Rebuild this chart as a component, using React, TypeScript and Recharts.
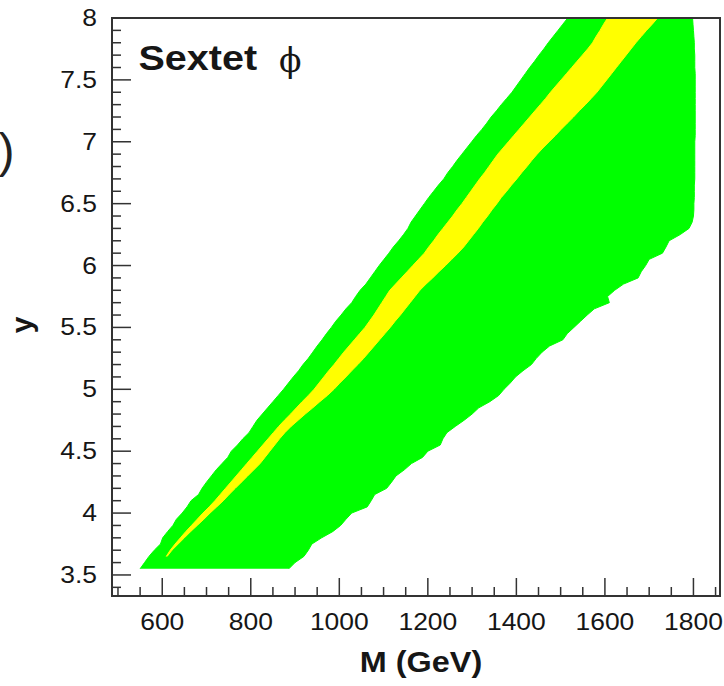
import React from 'react';
import { ComposedChart, Area, XAxis, YAxis, ReferenceArea } from 'recharts';

// coupling y (vertical axis), sampled every 0.05
const Y_VALUES = [
  3.55, 3.6, 3.65, 3.7, 3.75, 3.8, 3.85, 3.9, 3.95, 4.0,
  4.05, 4.1, 4.15, 4.2, 4.25, 4.3, 4.35, 4.4, 4.45, 4.5,
  4.55, 4.6, 4.65, 4.7, 4.75, 4.8, 4.85, 4.9, 4.95, 5.0,
  5.05, 5.1, 5.15, 5.2, 5.25, 5.3, 5.35, 5.4, 5.45, 5.5,
  5.55, 5.6, 5.65, 5.7, 5.75, 5.8, 5.85, 5.9, 5.95, 6.0,
  6.05, 6.1, 6.15, 6.2, 6.25, 6.3, 6.35, 6.4, 6.45, 6.5,
  6.55, 6.6, 6.65, 6.7, 6.75, 6.8, 6.85, 6.9, 6.95, 7.0,
  7.05, 7.1, 7.15, 7.2, 7.25, 7.3, 7.35, 7.4, 7.45, 7.5,
  7.55, 7.6, 7.65, 7.7, 7.75, 7.8, 7.85, 7.9, 7.95, 8.0,
];

// green band: left / right edge in M (GeV)
const GREEN_LEFT = [
  550, 560, 570, 582, 596, 601, 612, 624, 632, 645,
  656, 665, 682, 690, 700, 711, 722, 735, 748, 756,
  770, 782, 796, 805, 814, 826, 838, 850, 862, 874,
  885, 896, 908, 918, 930, 940, 950, 961, 971, 982,
  992, 1004, 1015, 1028, 1037, 1047, 1060, 1070, 1080, 1090,
  1101, 1112, 1122, 1134, 1145, 1155, 1162, 1172, 1182, 1192,
  1202, 1213, 1224, 1236, 1245, 1256, 1266, 1277, 1288, 1299,
  1310, 1322, 1333, 1343, 1355, 1366, 1378, 1390, 1400, 1410,
  1420, 1430, 1441, 1451, 1462, 1472, 1483, 1494, 1505, 1516,
];
const GREEN_RIGHT = [
  886, 900, 920, 930, 938, 960, 985, 1003, 1015, 1028,
  1063, 1072, 1080, 1107, 1118, 1128, 1147, 1163, 1188, 1200,
  1228, 1234, 1243, 1262, 1282, 1300, 1315, 1340, 1360, 1372,
  1386, 1398, 1415, 1434, 1445, 1458, 1475, 1505, 1515, 1530,
  1545, 1560, 1576, 1610, 1606, 1622, 1642, 1675, 1682, 1692,
  1700, 1730, 1738, 1745, 1770, 1790, 1797, 1800, 1801, 1801,
  1802, 1802, 1802, 1803, 1803, 1803, 1803, 1803, 1803, 1803,
  1804, 1804, 1804, 1804, 1804, 1804, 1804, 1804, 1804, 1804,
  1804, 1803, 1803, 1803, 1802, 1802, 1801, 1800, 1799, 1798,
];

// yellow band: left / right edge in M (GeV)
const YELLOW_LEFT = [
  null, null, 609, 618, 629, 641, 653, 666, 679, 692,
  706, 719, 731, 743, 755, 767, 779, 791, 803, 815,
  827, 839, 851, 863, 876, 890, 903, 916, 930, 943,
  954, 965, 976, 988, 999, 1010, 1022, 1034, 1046, 1058,
  1068, 1078, 1087, 1096, 1105, 1114, 1127, 1140, 1153, 1166,
  1179, 1192, 1202, 1213, 1223, 1234, 1245, 1256, 1266, 1277,
  1287, 1297, 1307, 1317, 1328, 1338, 1348, 1358, 1370, 1382,
  1394, 1406, 1418, 1430, 1442, 1454, 1466, 1477, 1489, 1501,
  1513, 1525, 1537, 1549, 1561, 1572, 1580, 1589, 1597, 1606,
];
const YELLOW_RIGHT = [
  null, null, 611, 622, 636, 650, 664, 679, 694, 708,
  723, 738, 751, 765, 779, 793, 807, 821, 832, 843,
  854, 865, 877, 891, 907, 923, 940, 956, 973, 988,
  1001, 1015, 1028, 1042, 1055, 1067, 1079, 1091, 1103, 1115,
  1126, 1138, 1149, 1160, 1171, 1182, 1196, 1211, 1225, 1240,
  1254, 1268, 1281, 1292, 1303, 1314, 1324, 1335, 1345, 1356,
  1366, 1378, 1389, 1401, 1412, 1424, 1435, 1447, 1460, 1474,
  1488, 1501, 1515, 1529, 1542, 1556, 1569, 1582, 1593, 1604,
  1615, 1626, 1637, 1648, 1659, 1670, 1682, 1694, 1707, 1719,
];

const X_DOMAIN = [486.5, 1860];
const Y_DOMAIN = [3.33, 8];

const X_TICKS: number[] = [];
for (let v = 500; v <= 1850; v += 50) X_TICKS.push(v);
const Y_TICKS: number[] = [];
for (let i = 34; i <= 80; i++) Y_TICKS.push(i / 10);

const GREEN = '#00ff00';
const YELLOW = '#ffff00';
const AXIS = '#333333';
const TEXT = '#161616';
const FONT = '"Liberation Sans", Arial, sans-serif';

const rows = Y_VALUES.map((y, i) => ({
  y,
  green: [GREEN_LEFT[i], GREEN_RIGHT[i]],
  yellow: [YELLOW_LEFT[i], YELLOW_RIGHT[i]],
}));

const XTick = (props: any) => {
  const { x, y, payload } = props;
  const v = payload.value;
  const major = v % 200 === 0;
  return (
    <g>
      <line x1={x} x2={x} y1={y} y2={y - (major ? 18 : 9)} stroke={AXIS} strokeWidth={1.5} />
      {major && (
        <text
          transform={`translate(${x},${y + 34}) scale(1.15,1)`}
          textAnchor="middle"
          fontFamily={FONT}
          fontSize={23}
          fill={TEXT}
        >
          {v}
        </text>
      )}
    </g>
  );
};

const YTick = (props: any) => {
  const { x, y, payload } = props;
  const v = payload.value;
  const major = Math.abs(v * 2 - Math.round(v * 2)) < 1e-6;
  return (
    <g>
      <line x1={x} x2={x + (major ? 19 : 9)} y1={y} y2={y} stroke={AXIS} strokeWidth={1.5} />
      {major && (
        <text
          transform={`translate(${x - 15},${y + 8}) scale(1.15,1)`}
          textAnchor="end"
          fontFamily={FONT}
          fontSize={23}
          fill={TEXT}
        >
          {String(v)}
        </text>
      )}
    </g>
  );
};

export default function App() {
  return (
    <div style={{ position: 'absolute', left: 0, top: 0, width: 724, height: 686, background: '#fff' }}>
      <ComposedChart
        layout="vertical"
        width={724}
        height={686}
        data={rows}
        margin={{ top: 18, right: 4, bottom: 0, left: 0 }}
      >
        <XAxis
          type="number"
          domain={X_DOMAIN}
          allowDataOverflow
          ticks={X_TICKS}
          interval={0}
          tick={(p: any) => <XTick {...p} />}
          tickLine={false}
          tickSize={0}
          tickMargin={0}
          axisLine={{ stroke: AXIS, strokeWidth: 2 }}
          height={90}
        />
        <YAxis
          type="number"
          dataKey="y"
          domain={Y_DOMAIN}
          reversed
          allowDataOverflow
          ticks={Y_TICKS}
          interval={0}
          tick={(p: any) => <YTick {...p} />}
          tickLine={false}
          tickSize={0}
          tickMargin={0}
          axisLine={{ stroke: AXIS, strokeWidth: 2 }}
          width={112}
        />
        <Area
          dataKey="green"
          type="linear"
          fill={GREEN}
          fillOpacity={1}
          stroke={GREEN}
          strokeWidth={1}
          isAnimationActive={false}
        />
        <Area
          dataKey="yellow"
          type="linear"
          fill={YELLOW}
          fillOpacity={1}
          stroke={YELLOW}
          strokeWidth={1}
          isAnimationActive={false}
        />
        <ReferenceArea
          x1={X_DOMAIN[0]}
          x2={X_DOMAIN[1]}
          y1={Y_DOMAIN[0]}
          y2={Y_DOMAIN[1]}
          fill="none"
          stroke={AXIS}
          strokeWidth={2}
          ifOverflow="visible"
        />
      </ComposedChart>
      <svg
        width={724}
        height={686}
        style={{ position: 'absolute', left: 0, top: 0, pointerEvents: 'none' }}
      >
        <text x={-1.5} y={167} fontFamily={FONT} fontSize={48} fill="#222">)</text>
        <text
          transform="translate(138.5,70) scale(1.13,1)"
          fontFamily={FONT}
          fontWeight="bold"
          fontSize={35}
          fill={TEXT}
        >
          Sextet
        </text>
        <text x={279} y={72} fontFamily='"DejaVu Serif", serif' fontSize={33} fill={TEXT}>ϕ</text>
        <text
          transform="translate(421,672) scale(1.08,1)"
          textAnchor="middle"
          fontFamily={FONT}
          fontWeight="bold"
          fontSize={30}
          fill={TEXT}
        >
          M (GeV)
        </text>
        <text
          transform="translate(32,325) rotate(-90)"
          textAnchor="middle"
          fontFamily={FONT}
          fontWeight="bold"
          fontSize={30}
          fill={TEXT}
        >
          y
        </text>
      </svg>
    </div>
  );
}
